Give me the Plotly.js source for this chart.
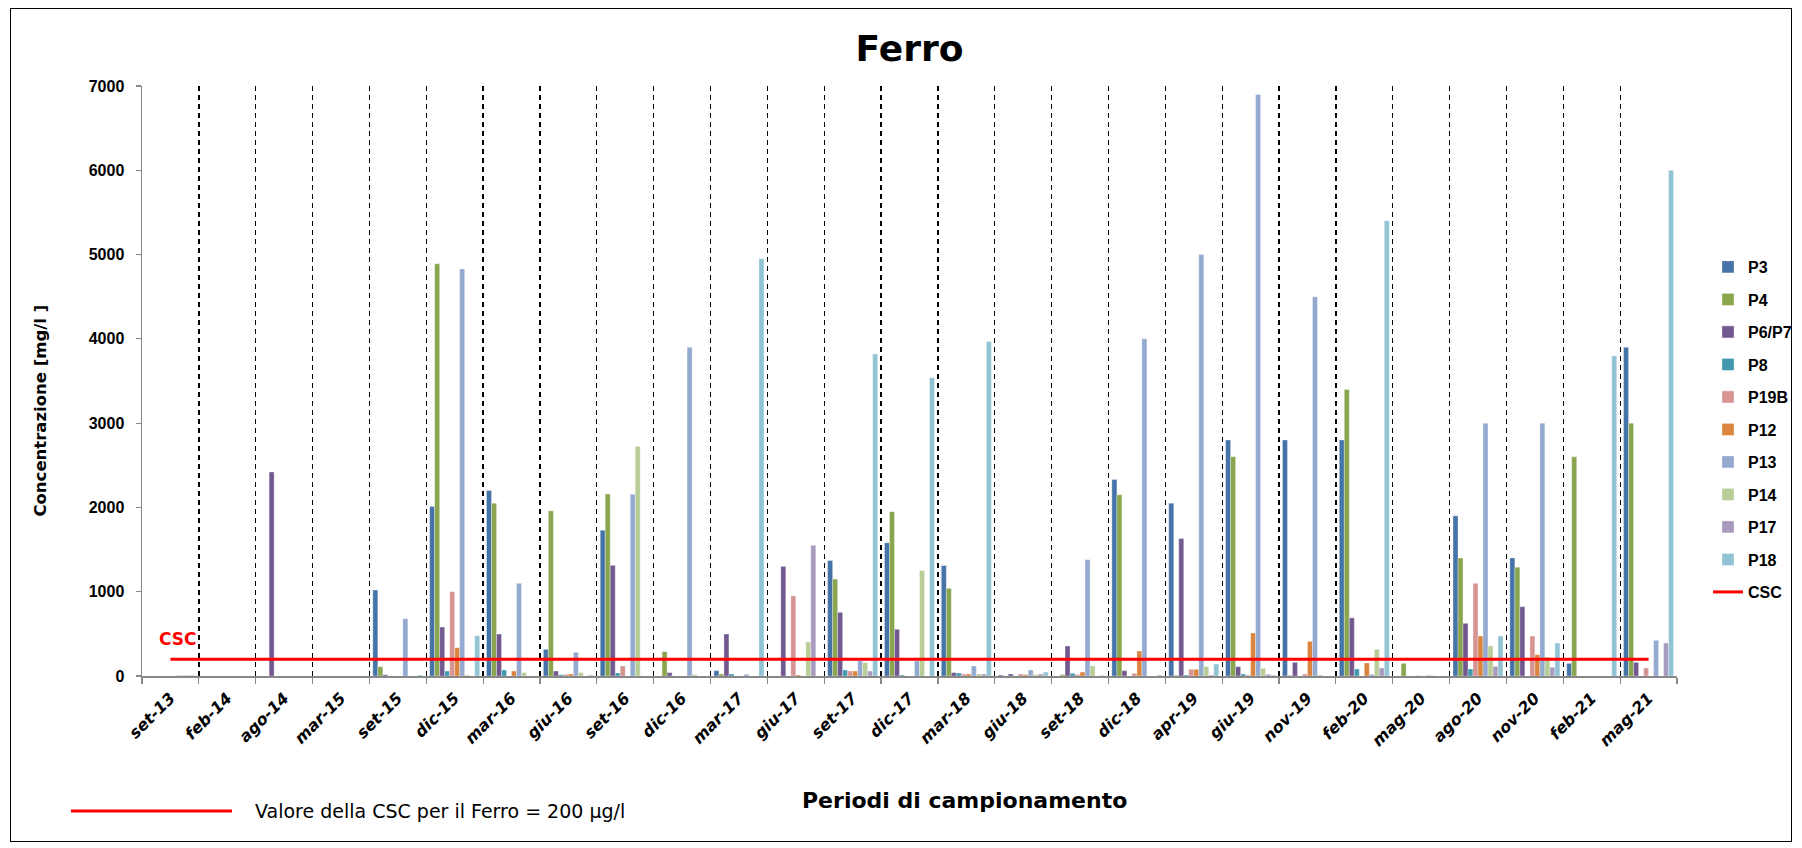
<!DOCTYPE html>
<html>
<head>
<meta charset="utf-8">
<script src="https://cdn.plot.ly/plotly-3.0.1.min.js"></script>
<style>
  html, body { margin: 0; padding: 0; background: #fff; }
  #wrap { position: relative; width: 1802px; height: 848px; }
  #chart { width: 1802px; height: 848px; }
  #frame { position: absolute; left: 10px; top: 8px; width: 1782px; height: 834px;
           border: 1.5px solid #000; box-sizing: border-box; pointer-events: none; }
</style>
</head>
<body>
<div id="wrap">
  <div id="chart"></div>
  <div id="frame"></div>
</div>
<script>
// ---- Data (µg/l) ----
const categories = ['set-13','feb-14','ago-14','mar-15','set-15','dic-15','mar-16','giu-16','set-16','dic-16',
  'mar-17','giu-17','set-17','dic-17','mar-18','giu-18','set-18','dic-18','apr-19','giu-19',
  'nov-19','feb-20','mag-20','ago-20','nov-20','feb-21','mag-21'];

const P3   = [null,null,null,null,1020,2010,2200,316,1730,null, 63,null,1370,1580,1310,12,null,2330,2050,2800, 2800,2800,null,1900,1400,150,3900];
const P4   = [null,null,null,null,110,4890,2050,1960,2160,289, 24,null,1150,1950,1040,null,16,2150,8,2600, 8,3400,150,1400,1290,2600,3000];
const P6P7 = [null,null,2420,null,15,581,498,59,1313,40, 498,1300,755,554,40,24,356,63,1630,111, 162,690,null,625,822,null,162];
const P8   = [null,null,null,null,null,59,71,16,36,null, 24,null,71,12,36,null,32,null,12,24, null,83,null,83,null,null,null];
const P19B = [null,null,null,null,null,1000,null,20,119,null, null,950,59,null,24,24,16,32,79,12, 24,null,5,1100,474,null,95];
const P12  = [null,null,null,null,null,336,59,24,null,null, null,12,59,null,24,16,47,297,79,510, 411,154,null,474,253,null,null];
const P13  = [8,null,null,null,680,4830,1100,281,2155,3900, 20,null,178,178,119,71,1380,4000,5000,6900, 4500,20,8,3000,3000,null,423];
const P14  = [8,null,null,null,null,12,40,40,2724,16, null,403,158,1250,24,16,119,null,111,91, 12,316,5,356,225,null,null];
const P17  = [8,null,null,null,null,null,null,null,null,null, null,1550,59,null,24,24,null,null,12,20, null,95,null,115,103,null,391];
const P18  = [8,null,null,null,12,478,null,12,null,null, 4950,null,3820,3540,3970,47,8,12,142,12, null,5400,null,474,391,3800,6000];

const cscValue = 200;   // CSC Ferro = 200 µg/l
const seriesNames  = ['P3','P4','P6/P7','P8','P19B','P12','P13','P14','P17','P18'];
const seriesValues = [P3, P4, P6P7, P8, P19B, P12, P13, P14, P17, P18];
const seriesColors = ['#4572A7','#89A54E','#71588F','#4198AF','#D69492','#DB843D','#93A9D0','#B9CD96','#A99BBD','#92C3D4'];

const FONT = 'DejaVu Sans, Arial, sans-serif';
const NUMFONT = 'Liberation Sans, Arial, sans-serif';

const traces = seriesNames.map((n, i) => ({
  type: 'bar', name: n, x: categories, y: seriesValues[i],
  marker: { color: seriesColors[i], line: { color: 'rgba(255,255,255,0.55)', width: 0.6 } },
  legendgroup: 'g' + i, hoverinfo: 'x+y+name'
}));

traces.push({
  type: 'scatter', mode: 'lines', name: 'CSC',
  x: categories, y: categories.map(() => cscValue),
  line: { color: '#FF0000', width: 3 },
  legendgroup: 'gcsc'
});

const layout = {
  width: 1802, height: 848,
  paper_bgcolor: '#fff', plot_bgcolor: '#fff',
  margin: { l: 142, r: 125, t: 86, b: 172, autoexpand: false },
  font: { family: FONT, color: '#000' },
  title: {
    text: 'Ferro', x: 0.5, xref: 'paper', xanchor: 'center',
    y: 1 - 48 / 848, yref: 'container', yanchor: 'middle',
    font: { family: FONT, size: 36, weight: 'bold', color: '#000' }
  },
  barmode: 'group', bargap: 0.12, bargroupgap: 0,
  xaxis: {
    type: 'category', tickson: 'boundaries', automargin: false,
    showline: true, linecolor: '#888', linewidth: 1.5,
    ticks: 'outside', ticklen: 6, tickcolor: '#888', tickwidth: 1.2,
    showgrid: true, gridcolor: '#000', gridwidth: 1.3, griddash: '5px,4px',
    tickangle: -45, ticklabelstandoff: 5,
    tickfont: { family: FONT, size: 16, weight: 'bold', style: 'italic', color: '#000' },
    zeroline: false
  },
  yaxis: {
    range: [0, 7000], dtick: 1000, tick0: 0, automargin: false,
    showline: true, linecolor: '#888', linewidth: 1.5,
    ticks: 'outside', ticklen: 5, tickcolor: '#888', tickwidth: 1.2,
    ticklabelstandoff: 8,
    showgrid: false, zeroline: false,
    tickfont: { family: NUMFONT, size: 16, weight: 'bold', color: '#000' }
  },
  showlegend: true,
  legend: {
    x: 1.0202, xanchor: 'left', y: 0.722, yanchor: 'top',
    font: { family: NUMFONT, size: 16, weight: 'bold', color: '#000' },
    tracegroupgap: 8.7, bgcolor: 'rgba(0,0,0,0)', itemwidth: 30, borderwidth: 0
  },
  annotations: [
    { text: 'Concentrazione [mg/l ]', xref: 'paper', yref: 'paper',
      x: -0.0664, y: 0.45, textangle: -90, showarrow: false,
      xanchor: 'center', yanchor: 'middle',
      font: { family: FONT, size: 16.5, weight: 'bold', color: '#000' } },
    { text: 'Periodi di campionamento', xref: 'paper', yref: 'paper',
      x: 0.536, y: (676 - 801) / 590, showarrow: false,
      xanchor: 'center', yanchor: 'middle',
      font: { family: FONT, size: 22, weight: 'bold', color: '#000' } },
    { text: 'Valore della CSC per il Ferro = 200 µg/l', xref: 'paper', yref: 'paper',
      x: (253 - 142) / 1535, y: (676 - 811) / 590, showarrow: false,
      xanchor: 'left', yanchor: 'middle',
      font: { family: FONT, size: 19, color: '#000' } },
    { text: 'CSC', xref: 'x', yref: 'y', x: categories[0], y: cscValue,
      xanchor: 'left', yanchor: 'bottom', xshift: -13, yshift: 8, showarrow: false,
      font: { family: FONT, size: 17, weight: 'bold', color: '#FF0000' } }
  ],
  shapes: [
    { type: 'line', xref: 'paper', yref: 'paper',
      x0: (71 - 142) / 1535, x1: (232 - 142) / 1535,
      y0: (676 - 811) / 590, y1: (676 - 811) / 590,
      line: { color: '#FF0000', width: 3 } }
  ]
};

Plotly.newPlot('chart', traces, layout, { displayModeBar: false, staticPlot: true });
</script>
</body>
</html>
